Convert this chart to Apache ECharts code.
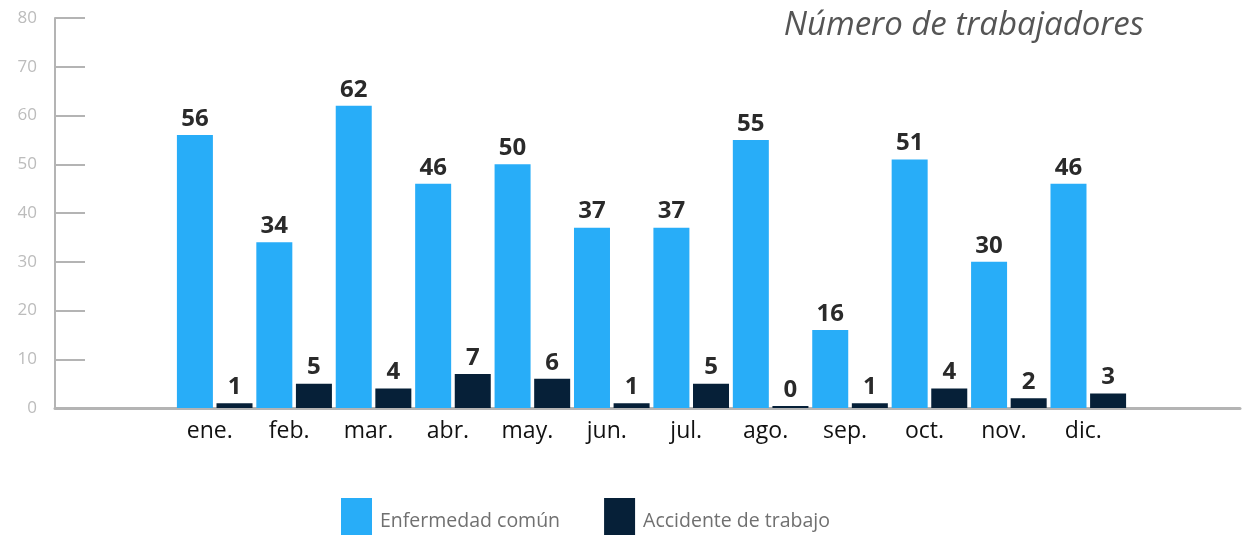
<!DOCTYPE html>
<html><head><meta charset="utf-8">
<script src="https://cdn.jsdelivr.net/npm/echarts@6/dist/echarts.min.js"></script>
<style>html,body{margin:0;padding:0;background:#fff}#c{width:1242px;height:538px}</style>
</head><body><div id="c"></div>
<script>
const months = ['ene.','feb.','mar.','abr.','may.','jun.','jul.','ago.','sep.','oct.','nov.','dic.'];
const enfermedad = [56,34,62,46,50,37,37,55,16,51,30,46];
const accidente = [1,5,4,7,6,1,5,0,1,4,2,3];
const seriesNames = ['Enfermedad común','Accidente de trabajo'];
const yTicks = {min:0,max:80,interval:10};
const titleText = 'Número de trabajadores';

const chart = echarts.init(document.getElementById('c'), null, {renderer:'canvas'});
const labelStyle = {show:true, position:'top', distance:4, fontFamily:'Open Sans', fontWeight:'bold', fontSize:24, color:'#2a2a2a'};
chart.setOption({
  animation:false,
  title:{text:titleText, right:98, top:9, padding:0, textStyle:{fontFamily:'Open Sans', fontStyle:'italic', fontWeight:'normal', fontSize:33, color:'#555555'}},
  legend:{left:341, top:498, padding:0, itemWidth:31, itemHeight:37, itemGap:44, icon:'rect',
    formatter:'{t|{name}}',
    textStyle:{fontFamily:'Open Sans', fontSize:19.5, color:'#707070',
      rich:{t:{fontFamily:'Open Sans', fontSize:19.5, color:'#707070', padding:[10,0,0,3]}}},
    data:seriesNames},
  grid:[
    {left:55, right:2, top:18, bottom:130},
    {left:175, width:953, top:18, bottom:130}
  ],
  xAxis:[
    {gridIndex:0, type:'value', min:0, max:1, axisLine:{show:true, lineStyle:{color:'#b4b4b4', width:3}}, axisTick:{show:false}, axisLabel:{show:false}, splitLine:{show:false}},
    {gridIndex:1, type:'category', data:months, axisLine:{show:false}, axisTick:{show:false},
      axisLabel:{margin:12, padding:[0,10,0,0], fontFamily:'Open Sans', fontSize:23, color:'#111'}}
  ],
  yAxis:[
    {gridIndex:0, type:'value', min:yTicks.min, max:yTicks.max, interval:yTicks.interval,
      axisLine:{show:true, lineStyle:{color:'#b4b4b4', width:2}},
      axisTick:{show:true, inside:true, length:30, lineStyle:{color:'#b4b4b4', width:2}},
      axisLabel:{margin:18, fontFamily:'Open Sans', fontSize:17, color:'#bcbcbc'}, splitLine:{show:false}},
    {gridIndex:1, type:'value', min:yTicks.min, max:yTicks.max, interval:yTicks.interval, show:false}
  ],
  series:[
    {name:seriesNames[0], type:'bar', xAxisIndex:1, yAxisIndex:1, data:enfermedad, barWidth:36, barGap:'10%', itemStyle:{color:'#28adf8'}, label:labelStyle},
    {name:seriesNames[1], type:'bar', xAxisIndex:1, yAxisIndex:1, data:accidente, barWidth:36, barGap:'10%', barMinHeight:2, itemStyle:{color:'#062038'}, label:labelStyle}
  ]
});
</script></body></html>
